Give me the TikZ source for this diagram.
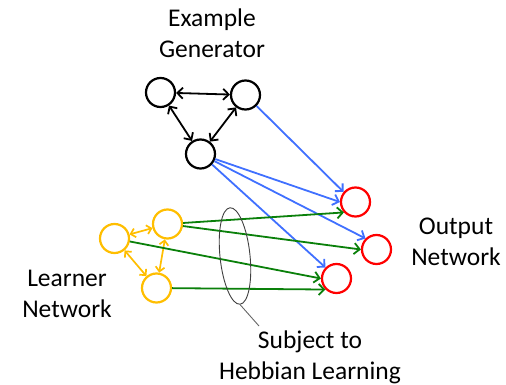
\documentclass[tikz,border=0pt]{standalone}
\usepackage{fontspec}
\setmainfont{Carlito}
\usetikzlibrary{arrows.meta,shapes.geometric}
\definecolor{eblue}{RGB}{64,112,255}
\definecolor{egreen}{RGB}{10,128,10}
\definecolor{eyellow}{RGB}{255,190,0}
\definecolor{ered}{RGB}{255,0,0}
\begin{document}
\begin{tikzpicture}[x=1pt,y=-1pt,
  neuron/.style={circle,draw,line width=2.2pt,minimum size=29pt,inner sep=0pt},
  lbl/.style={font=\fontsize{25.5}{31}\selectfont,align=center,anchor=base},
  conn/.style={line width=1.8pt,-{Straight Barb[length=5.5pt,width=11pt]}},
  bi/.style={line width=1.8pt,{Straight Barb[length=5.5pt,width=11pt]}-{Straight Barb[length=5.5pt,width=11pt]}},
  ybi/.style={line width=1.7pt,{Straight Barb[length=4.5pt,width=9pt]}-{Straight Barb[length=4.5pt,width=9pt]}}]
\useasboundingbox (0,0) rectangle (506,385);
% labels
\node[lbl] (tgen) at (212,58) {Example\\Generator};
\node[lbl] (tout) at (456,265) {Output\\Network};
\node[lbl] (tlearn) at (67,317) {Learner\\Network};
\node[lbl] (thebb) at (310,379) {Subject to\\Hebbian Learning};
% example generator
\node[neuron] (A) at (160.5,92.5) {};
\node[neuron] (B) at (245.5,95) {};
\node[neuron] (C) at (200.5,154) {};
% learner
\node[neuron,draw=eyellow] (Y1) at (114.5,238.5) {};
\node[neuron,draw=eyellow] (Y2) at (167.5,224) {};
\node[neuron,draw=eyellow] (Y3) at (156.5,288) {};
% output
\node[neuron,draw=ered] (R1) at (355.5,202) {};
\node[neuron,draw=ered] (R2) at (376.5,249.5) {};
\node[neuron,draw=ered] (R3) at (336.5,278.5) {};
% black
\draw[bi] (A) -- (B);
\draw[bi] (A) -- (C);
\draw[bi] (B) -- (C);
% yellow
\draw[ybi,eyellow] (Y1) -- (Y2);
\draw[ybi,eyellow] (Y1) -- (Y3);
\draw[ybi,eyellow] (Y2) -- (Y3);
% blue
\draw[conn,eblue] (B) -- (R1.140);
\draw[conn,eblue] (C) -- (R1.180);
\draw[conn,eblue] (C) -- (R2.135);
\draw[conn,eblue] (C) -- (R3.135);
% green
\draw[conn,egreen] (Y2) -- (R1.222);
\draw[conn,egreen] (Y2) -- (R2.180);
\draw[conn,egreen] (Y1) -- (R3.180);
\draw[conn,egreen] (Y3) -- (R3.225);
% hebbian ellipse
\node[ellipse,draw=black!75,line width=0.9pt,minimum width=30pt,minimum height=97pt,inner sep=0pt,rotate=6] (ell) at (235,256) {};
\coordinate (lead) at (259,326);
\draw[black!60,line width=0.9pt] (ell.south) -- (lead);
\end{tikzpicture}
\end{document}
